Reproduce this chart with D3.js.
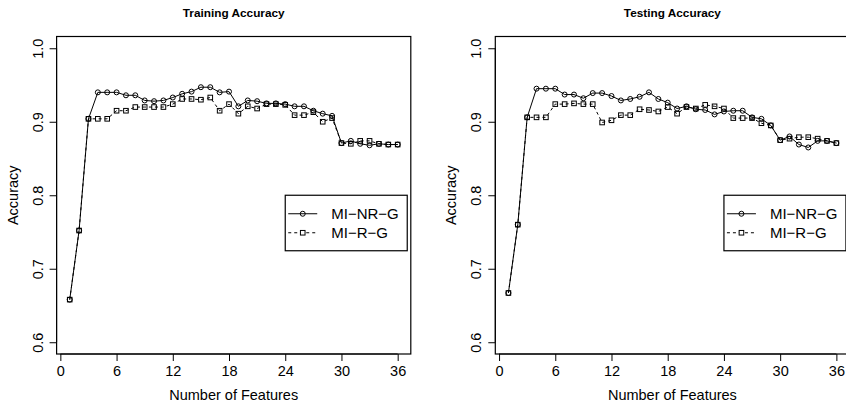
<!DOCTYPE html>
<html lang="en">
  <head>
    <meta charset="utf-8">
    <title>Training and Testing Accuracy</title>
    <style>
      body {
          margin: 0;
          background: white;
      }
      svg {
          display: block;
          font-family: "Liberation Sans", Arial, sans-serif;
      }
    </style>
    <script src="https://d3js.org/d3.v7.min.js"></script>
  </head>
  <body>
    <div class="chart"></div>
    <script>

    const features = [1,2,3,4,5,6,7,8,9,10,11,12,13,14,15,16,17,18,19,20,21,22,23,24,25,26,27,28,29,30,31,32,33,34,35,36]

    const trainNR = [0.658, 0.752, 0.904, 0.940, 0.940, 0.940, 0.936, 0.936, 0.929, 0.928, 0.929, 0.933,
                     0.938, 0.941, 0.947, 0.947, 0.940, 0.941, 0.921, 0.929, 0.928, 0.925, 0.925, 0.924,
                     0.921, 0.921, 0.915, 0.911, 0.908, 0.871, 0.874, 0.870, 0.868, 0.870, 0.869, 0.869]
    const trainR  = [0.658, 0.752, 0.904, 0.904, 0.904, 0.915, 0.915, 0.920, 0.920, 0.920, 0.920, 0.924,
                     0.931, 0.931, 0.930, 0.933, 0.915, 0.924, 0.911, 0.921, 0.918, 0.924, 0.924, 0.923,
                     0.909, 0.909, 0.913, 0.900, 0.905, 0.871, 0.870, 0.874, 0.874, 0.870, 0.869, 0.869]

    const testNR = [0.667, 0.760, 0.906, 0.945, 0.945, 0.945, 0.937, 0.937, 0.932, 0.939, 0.939, 0.935,
                    0.929, 0.931, 0.934, 0.940, 0.931, 0.926, 0.918, 0.921, 0.917, 0.916, 0.910, 0.914,
                    0.915, 0.915, 0.906, 0.904, 0.895, 0.875, 0.880, 0.869, 0.865, 0.874, 0.874, 0.871]
    const testR  = [0.667, 0.760, 0.906, 0.906, 0.906, 0.924, 0.924, 0.925, 0.924, 0.924, 0.899, 0.902,
                    0.909, 0.909, 0.917, 0.916, 0.914, 0.920, 0.911, 0.920, 0.918, 0.923, 0.921, 0.918,
                    0.905, 0.905, 0.905, 0.898, 0.895, 0.875, 0.877, 0.879, 0.879, 0.877, 0.874, 0.871]

    const xTicks = [0, 6, 12, 18, 24, 30, 36]
    const yTicks = [0.6, 0.7, 0.8, 0.9, 1.0]
    const seriesNames = ["MI\u2212NR\u2212G", "MI\u2212R\u2212G"]

    const width = 846, height = 404
    const panelShift = 438.7
    const fontSize = 14.5

    const svg = d3.select(".chart")
      .append("svg")
      .attr("width", width)
      .attr("height", height)

    const chart = (title, nr, r, offset) => {
      const g = svg.append("g").attr("transform", `translate(${offset},0)`)

      // R style limits: data range + 4%
      const x = d3.scaleLinear().domain([-0.4, 37.4]).range([56.6, 410.8])
      const y = d3.scaleLinear().domain([0.584, 1.016]).range([354, 36.5])

      // box
      g.append("rect")
        .attr("x", x.range()[0])
        .attr("y", y.range()[1])
        .attr("width", x.range()[1] - x.range()[0])
        .attr("height", y.range()[0] - y.range()[1])
        .attr("fill", "none")
        .attr("stroke", "black")
        .attr("stroke-width", 1.2)

      // x axis
      const xa = g.append("g")
        .attr("transform", `translate(0,${y.range()[0]})`)
        .call(d3.axisBottom(x).tickValues(xTicks).tickSize(7).tickPadding(5).tickSizeOuter(0))
      xa.select(".domain").remove()
      xa.append("line")
        .attr("x1", x(xTicks[0])).attr("x2", x(xTicks[xTicks.length - 1]))
        .attr("stroke", "black")
      xa.selectAll("text").style("font-size", fontSize + "px").attr("fill", "black")

      // y axis, labels parallel to axis
      const ya = g.append("g")
        .attr("transform", `translate(${x.range()[0]},0)`)
        .call(d3.axisLeft(y).tickValues(yTicks).tickFormat(d3.format(".1f")).tickSize(7).tickSizeOuter(0))
      ya.select(".domain").remove()
      ya.append("line")
        .attr("y1", y(yTicks[0])).attr("y2", y(yTicks[yTicks.length - 1]))
        .attr("stroke", "black")
      ya.selectAll("text")
        .attr("transform", "rotate(-90)")
        .attr("x", 0)
        .attr("y", -14)
        .attr("dy", 0)
        .attr("text-anchor", "middle")
        .attr("fill", "black")
        .style("font-size", fontSize + "px")

      // titles
      g.append("text")
        .attr("x", (x.range()[0] + x.range()[1]) / 2)
        .attr("y", 17)
        .attr("text-anchor", "middle")
        .style("font-size", "11.8px")
        .style("font-weight", "bold")
        .text(title)

      g.append("text")
        .attr("x", (x.range()[0] + x.range()[1]) / 2)
        .attr("y", 400)
        .attr("text-anchor", "middle")
        .style("font-size", fontSize + "px")
        .text("Number of Features")

      g.append("text")
        .attr("transform", `translate(17.5,${(y.range()[0] + y.range()[1]) / 2}) rotate(-90)`)
        .attr("text-anchor", "middle")
        .style("font-size", fontSize + "px")
        .text("Accuracy")

      const line = d3.line().x((d, i) => x(features[i])).y(d => y(d))

      g.append("path")
        .datum(nr)
        .attr("d", line)
        .attr("fill", "none")
        .attr("stroke", "black")
        .attr("stroke-width", 1)

      g.append("path")
        .datum(r)
        .attr("d", line)
        .attr("fill", "none")
        .attr("stroke", "black")
        .attr("stroke-width", 1)
        .attr("stroke-dasharray", "3,3")

      g.append("g")
        .selectAll("rect")
        .data(r)
        .join("rect")
        .attr("x", (d, i) => x(features[i]) - 2.3)
        .attr("y", d => y(d) - 2.3)
        .attr("width", 4.6)
        .attr("height", 4.6)
        .attr("fill", "none")
        .attr("stroke", "black")

      g.append("g")
        .selectAll("circle")
        .data(nr)
        .join("circle")
        .attr("cx", (d, i) => x(features[i]))
        .attr("cy", d => y(d))
        .attr("r", 2.5)
        .attr("fill", "none")
        .attr("stroke", "black")

      // legend, top-left corner at (24, 0.8)
      const lg = g.append("g").attr("transform", `translate(${x(24)},${y(0.8)})`)
      lg.append("rect")
        .attr("width", 122)
        .attr("height", 55.5)
        .attr("fill", "white")
        .attr("stroke", "black")
        .attr("stroke-width", 1.2)

      seriesNames.forEach((name, i) => {
        const cy = 18.5 + i * 19
        lg.append("line")
          .attr("x1", 3).attr("x2", 32)
          .attr("y1", cy).attr("y2", cy)
          .attr("stroke", "black")
          .attr("stroke-dasharray", i == 1 ? "3,3" : null)
        if (i == 0) {
          lg.append("circle").attr("cx", 17.5).attr("cy", cy).attr("r", 2.5)
            .attr("fill", "none").attr("stroke", "black")
        } else {
          lg.append("rect").attr("x", 15.2).attr("y", cy - 2.3).attr("width", 4.6).attr("height", 4.6)
            .attr("fill", "white").attr("stroke", "black")
        }
        lg.append("text")
          .attr("x", 46)
          .attr("y", cy + 5.4)
          .style("font-size", "15px")
          .text(name)
      })
    }

    chart("Training Accuracy", trainNR, trainR, 0)
    chart("Testing Accuracy", testNR, testR, panelShift)
    </script>
  </body>
</html>
